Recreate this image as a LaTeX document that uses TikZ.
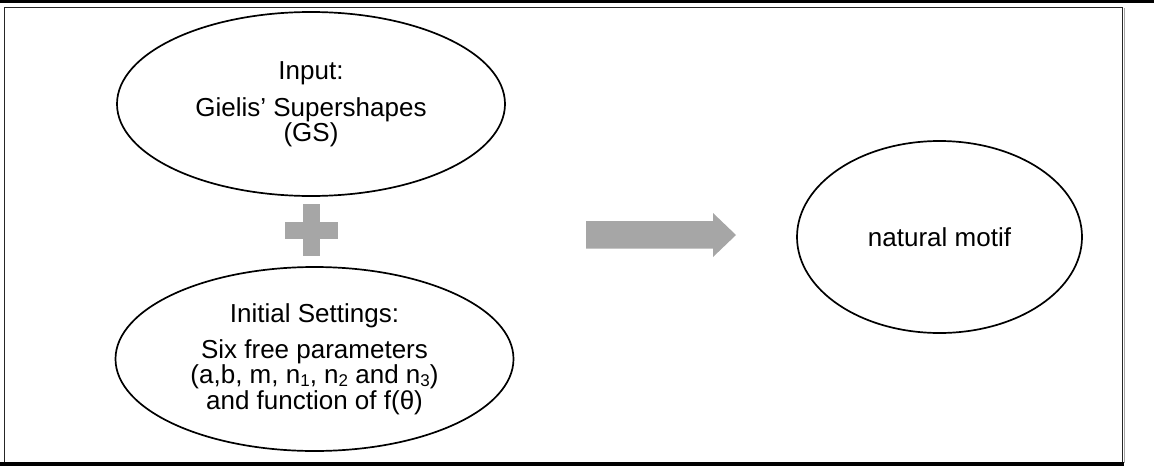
\documentclass[tikz,border=0pt]{standalone}
\usepackage{fontspec}
\setmainfont{Liberation Sans}
\usetikzlibrary{shapes.geometric}
\definecolor{shapegray}{HTML}{A6A6A6}
\newcommand{\sbs}[1]{\raisebox{-0.2ex}{\fontsize{17}{17}\selectfont #1}}
\tikzset{
  oval/.style={ellipse, draw=black, line width=1.7pt, inner sep=0pt, align=center,
    font=\fontsize{26}{23.5}\selectfont},
}
\begin{document}
\begin{tikzpicture}[x=1pt, y=-1pt]
\useasboundingbox (0,0) rectangle (1154,466);
% page rules and frame
\fill[black] (0,0) rectangle (1154,3);
\draw[line width=1pt, black!85] (4,7) -- (1122,7) -- (1122,462);
\draw[line width=1pt, black!85] (4,7) -- (4,462);
\draw[line width=1pt, black!35] (1124,8) -- (1124,463);
\fill[black] (0,461.5) rectangle (1124,465.5);
% nodes
\node[oval, minimum width=388, minimum height=184] (input) at (311,104)
  {Input:\\[11.5pt] Gielis’ Supershapes\\ (GS)};
\node[oval, minimum width=398, minimum height=184, font=\fontsize{26}{24}\selectfont] (settings) at (314.5,359)
  {Initial Settings:\\[11pt] Six free parameters\\ (a,b, m, n\sbs{1}, n\sbs{2} and n\sbs{3})\\ and function of f(θ)};
\node[oval, minimum width=285, minimum height=192] (motif) at (939.5,237) {natural motif};
% plus sign
\fill[shapegray] (303,204) rectangle (320,256);
\fill[shapegray] (285,222) rectangle (338,238.5);
% block arrow
\fill[shapegray] (586,221) -- (713,221) -- (713,213) -- (736,235) -- (713,257) -- (713,248.5) -- (586,248.5) -- cycle;
\end{tikzpicture}
\end{document}
